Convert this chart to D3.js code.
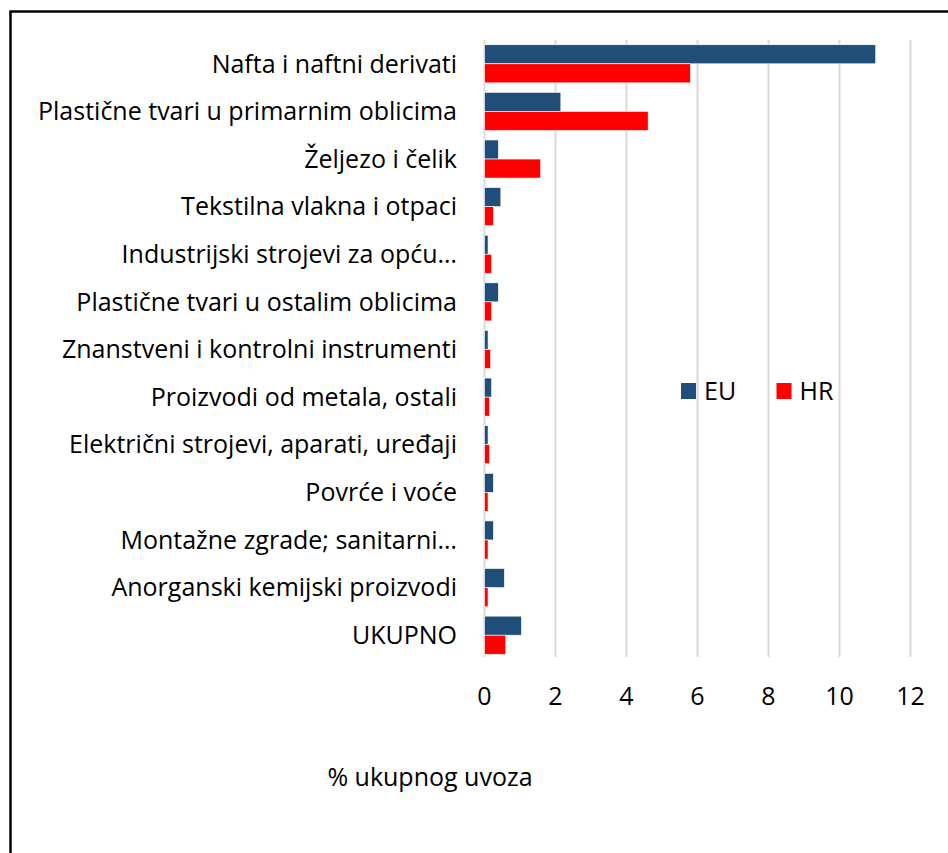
<!DOCTYPE html>
<html>
<head>
<meta charset="utf-8">
<script src="https://cdn.jsdelivr.net/npm/d3@7"></script>
<style>
  body { margin: 0; background: #fff; }
  text { font-family: "Open Sans", sans-serif; fill: #000; }
</style>
</head>
<body>
<script>
const categories = [
    "Nafta i naftni derivati",
    "Plastične tvari u primarnim oblicima",
    "Željezo i čelik",
    "Tekstilna vlakna i otpaci",
    "Industrijski strojevi za opću…",
    "Plastične tvari u ostalim oblicima",
    "Znanstveni i kontrolni instrumenti",
    "Proizvodi od metala, ostali",
    "Električni strojevi, aparati, uređaji",
    "Povrće i voće",
    "Montažne zgrade; sanitarni…",
    "Anorganski kemijski proizvodi",
    "UKUPNO"
];
const euValues = [11.02, 2.15, 0.39, 0.46, 0.10, 0.39, 0.10, 0.20, 0.10, 0.25, 0.25, 0.56, 1.04];
const hrValues = [5.80, 4.61, 1.58, 0.25, 0.20, 0.20, 0.17, 0.14, 0.14, 0.10, 0.10, 0.10, 0.60];
const seriesNames = ["EU", "HR"];
const seriesColors = ["#1f4e79", "#ff0000"];
const xTicks = [0, 2, 4, 6, 8, 10, 12];
const axisTitle = "% ukupnog uvoza";

const width = 948,
    height = 853,
    fontSize = 25,
    x = d3.scaleLinear()
        .domain([0, 12])
        .range([484.5, 910.5]),
    y = d3.scaleBand()
        .domain(categories)
        .range([40, 659])
        .paddingInner(0.2)
        .paddingOuter(0.1),
    ySub = d3.scaleBand()
        .domain(seriesNames)
        .range([0, y.bandwidth()]),
    color = d3.scaleOrdinal(seriesNames, seriesColors),
    svg = d3.select("body").append("svg")
        .attr("width", width)
        .attr("height", height);

const rows = categories.map((c, i) => ({ category: c, values: [euValues[i], hrValues[i]] }));

// frame
svg.append("path")
    .attr("d", `M10.5,${height} V11.5 H${width}`)
    .attr("fill", "none")
    .attr("stroke", "#000")
    .attr("stroke-width", 2.5);

// gridlines
svg.append("g")
    .selectAll("line")
    .data(xTicks)
    .join("line")
    .attr("x1", d => x(d))
    .attr("x2", d => x(d))
    .attr("y1", 40)
    .attr("y2", 657)
    .attr("stroke", "#d9d9d9")
    .attr("stroke-width", 2);

// bars
const group = svg.append("g")
    .selectAll("g")
    .data(rows)
    .join("g")
    .attr("transform", d => "translate(0," + y(d.category) + ")");

group.selectAll("rect")
    .data(d => d.values.map((v, j) => ({ key: seriesNames[j], value: v })))
    .join("rect")
    .attr("x", x(0))
    .attr("y", d => ySub(d.key))
    .attr("width", d => x(d.value) - x(0))
    .attr("height", ySub.bandwidth())
    .attr("fill", d => color(d.key))
    .attr("stroke", "#fff")
    .attr("stroke-width", 0.6);

// category labels
svg.append("g")
    .selectAll("text")
    .data(categories)
    .join("text")
    .attr("x", 457)
    .attr("y", d => y(d) + y.bandwidth() / 2)
    .attr("dy", "0.35em")
    .attr("text-anchor", "end")
    .style("font-size", fontSize + "px")
    .text(d => d);

// tick labels
svg.append("g")
    .selectAll("text")
    .data(xTicks)
    .join("text")
    .attr("x", d => x(d))
    .attr("y", 705)
    .attr("text-anchor", "middle")
    .style("font-size", fontSize + "px")
    .text(d => d);

svg.append("text")
    .attr("x", 430)
    .attr("y", 786)
    .attr("text-anchor", "middle")
    .style("font-size", fontSize + "px")
    .text(axisTitle);

// legend
const legend = svg.append("g")
    .selectAll("g")
    .data(seriesNames)
    .join("g")
    .attr("transform", (d, i) => "translate(" + (681 + i * 95.5) + ",383)");

legend.append("rect")
    .attr("width", 15)
    .attr("height", 16)
    .attr("fill", d => color(d));

legend.append("text")
    .attr("x", 23)
    .attr("y", 8)
    .attr("dy", "0.35em")
    .style("font-size", fontSize + "px")
    .text(d => d);
</script>
</body>
</html>
